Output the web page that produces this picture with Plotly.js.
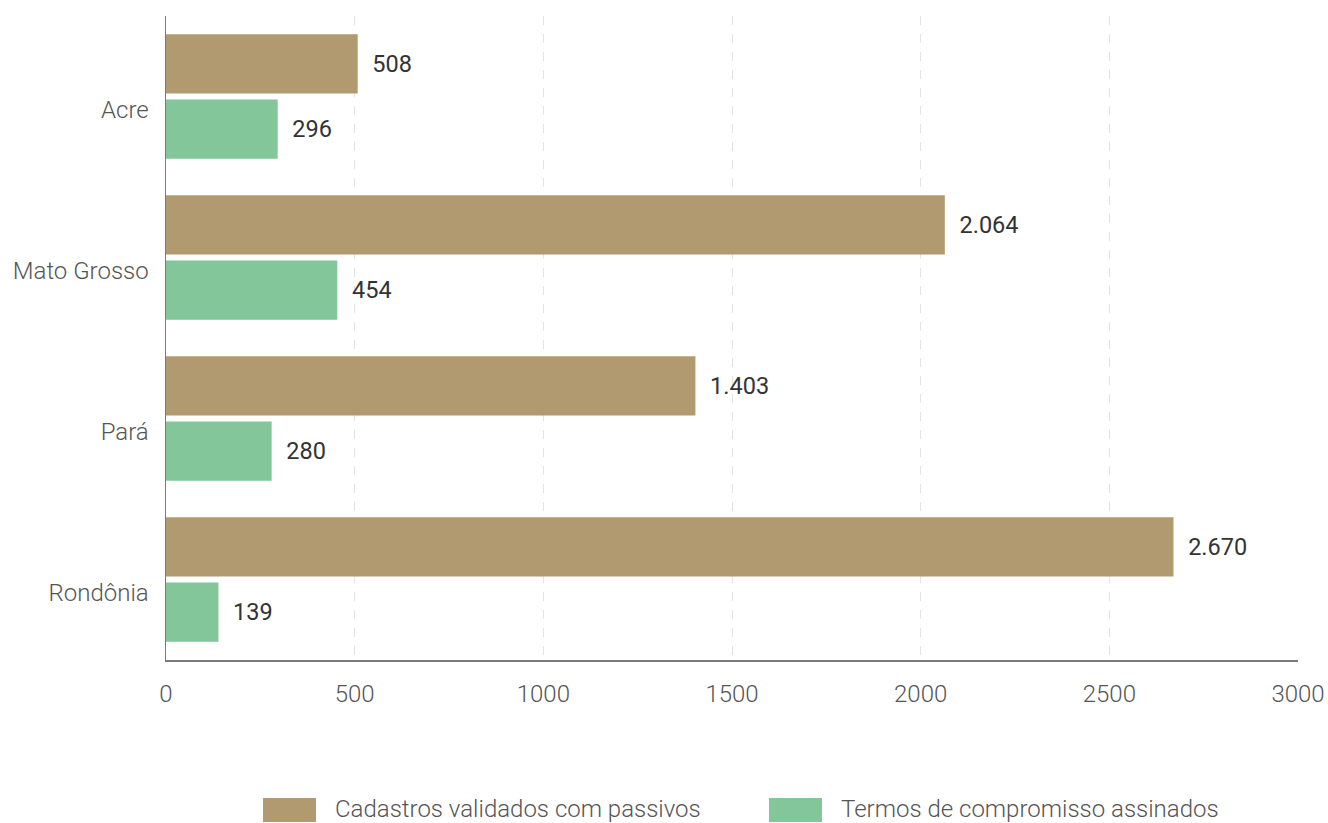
<!DOCTYPE html>
<html>
<head>
<meta charset="utf-8">
<script src="https://cdn.plot.ly/plotly-3.0.1.min.js"></script>
<style>
html,body{margin:0;padding:0;background:#fff;}
#chart{width:1328px;height:823px;}
</style>
</head>
<body>
<div id="chart"></div>
<script>
const categories = ["Acre", "Mato Grosso", "Pará", "Rondônia"];
const cadastros = [508, 2064, 1403, 2670];
const termos = [296, 454, 280, 139];
const seriesNames = ["Cadastros validados com passivos", "Termos de compromisso assinados"];
const seriesColors = ["#B19A70", "#82C69A"];
const xTicks = [0, 500, 1000, 1500, 2000, 2500, 3000];

const pad = "\u00A0\u00A0";
function barTrace(vals, i) {
  return {
    type: "bar",
    orientation: "h",
    y: categories,
    x: vals,
    name: seriesNames[i],
    marker: {color: seriesColors[i]},
    text: vals,
    texttemplate: pad + "%{x:,}",
    textposition: "outside",
    cliponaxis: false,
    textfont: {family: "Roboto", size: 23.5, color: "#333333", weight: 400},
    hoverinfo: "skip"
  };
}

const traces = [barTrace(cadastros, 0), barTrace(termos, 1)];

const legendFont = {family: "Roboto", size: 24, color: "#555555", weight: 300};
const shapes = [];
const annotations = [];
const legendX = [0.0857, 0.5327];
for (let i = 0; i < 2; i++) {
  shapes.push({
    type: "rect", xref: "paper", yref: "paper",
    x0: legendX[i], x1: legendX[i] + 0.0468, y0: -0.2143, y1: -0.2516,
    fillcolor: seriesColors[i], line: {width: 0}
  });
  annotations.push({
    xref: "paper", yref: "paper", x: legendX[i] + 0.0618, y: -0.2315,
    xanchor: "left", yanchor: "middle", showarrow: false,
    text: seriesNames[i], font: legendFont
  });
}

const layout = {
  width: 1328, height: 823,
  margin: {l: 166, r: 30, t: 16, b: 163},
  paper_bgcolor: "#ffffff", plot_bgcolor: "#ffffff",
  separators: ",.",
  barmode: "group",
  bargap: 0.19,
  bargroupgap: 0.092,
  showlegend: false,
  xaxis: {
    range: [0, 3000],
    tickvals: xTicks,
    ticktext: xTicks.map(String),
    showgrid: true, gridcolor: "#e3e3e3", griddash: "dash", gridwidth: 1,
    zeroline: false,
    showline: true, linecolor: "#7a7a7a", linewidth: 1.5,
    ticks: "", ticklabelstandoff: 12,
    tickfont: {family: "Roboto", size: 24, color: "#555555", weight: 300},
    fixedrange: true
  },
  yaxis: {
    type: "category",
    categoryorder: "array", categoryarray: categories,
    autorange: "reversed",
    showgrid: false, zeroline: false,
    showline: true, linecolor: "#7a7a7a", linewidth: 1.5,
    ticks: "", ticklabelstandoff: 11, ticklabelshift: -13,
    tickfont: {family: "Roboto", size: 24, color: "#555555", weight: 300},
    fixedrange: true
  },
  shapes: shapes,
  annotations: annotations
};

Plotly.newPlot("chart", traces, layout, {displayModeBar: false, staticPlot: true});
</script>
</body>
</html>
